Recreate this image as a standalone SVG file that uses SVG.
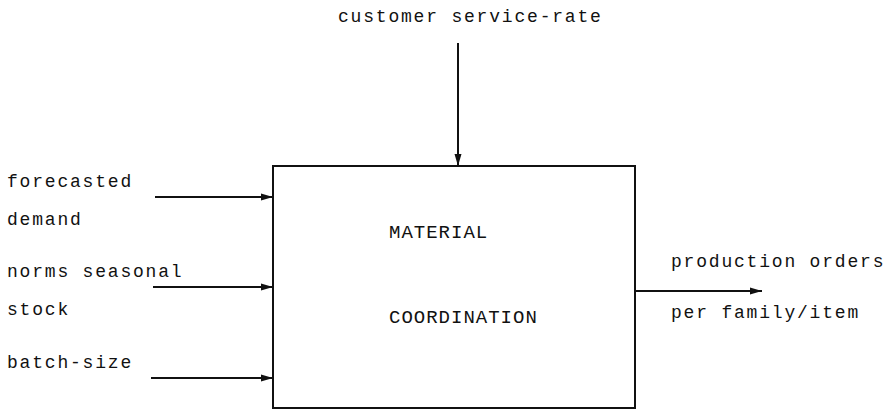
<svg xmlns="http://www.w3.org/2000/svg" width="891" height="411" viewBox="0 0 891 411">
<defs>
<style>
text{font-family:"Liberation Mono","DejaVu Sans Mono",monospace;font-size:18px;letter-spacing:1.8px;fill:#111}
.caps{font-size:19px;letter-spacing:1px}
.ln{stroke:#111;stroke-width:2;fill:none}
.box{stroke:#111;stroke-width:2;fill:#fff}
</style>
<marker id="ah" viewBox="0 0 12 8" refX="12" refY="4" markerWidth="12" markerHeight="8" markerUnits="userSpaceOnUse" orient="auto">
<path d="M0,0.5 L12,4 L0,7.5 Z" fill="#111"/>
</marker>
</defs>
<rect width="891" height="411" fill="#fff"/>
<g id="material-coordination">
<rect class="box" x="273" y="166" width="362" height="242"/>
<text class="caps" x="389" y="238">MATERIAL</text>
<text class="caps" x="389" y="323">COORDINATION</text>
</g>
<g id="connectors">
<line class="ln" x1="458" y1="43" x2="458" y2="166" marker-end="url(#ah)"/>
<line class="ln" x1="155" y1="197" x2="273" y2="197" marker-end="url(#ah)"/>
<line class="ln" x1="153" y1="287" x2="273" y2="287" marker-end="url(#ah)"/>
<line class="ln" x1="151" y1="378" x2="273" y2="378" marker-end="url(#ah)"/>
<line class="ln" x1="635" y1="291" x2="762" y2="291" marker-end="url(#ah)"/>
</g>
<g id="labels">
<text x="338" y="22">customer service-rate</text>
<text x="7" y="187">forecasted</text>
<text x="7" y="225">demand</text>
<text x="7" y="277">norms seasonal</text>
<text x="7" y="315">stock</text>
<text x="7" y="368">batch-size</text>
<text x="671" y="267">production orders</text>
<text x="671" y="318">per family/item</text>
</g>
</svg>
